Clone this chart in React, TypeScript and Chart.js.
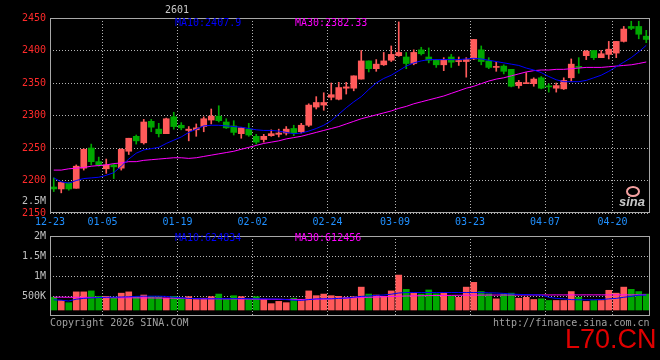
import React, { useEffect, useRef } from 'react';
import { Chart, registerables } from 'chart.js';

Chart.register(...registerables);

const TITLE = '2601';

const DATES = [
  '12-23', '12-24', '12-25', '12-26', '12-29', '12-30', '12-31',
  '01-05', '01-06', '01-07', '01-08', '01-09', '01-12', '01-13', '01-14', '01-15', '01-16',
  '01-19', '01-20', '01-21', '01-22', '01-23', '01-26', '01-27', '01-28', '01-29', '01-30',
  '02-02', '02-03', '02-04', '02-05', '02-06', '02-09', '02-10', '02-11', '02-12', '02-13',
  '02-24', '02-25', '02-26', '02-27',
  '03-02', '03-03', '03-04', '03-05', '03-06', '03-09', '03-10', '03-11', '03-12', '03-13',
  '03-16', '03-17', '03-18', '03-19', '03-20', '03-23', '03-24', '03-25', '03-26', '03-27',
  '03-30', '03-31', '04-01', '04-02', '04-03', '04-07', '04-08', '04-09', '04-10',
  '04-13', '04-14', '04-15', '04-16', '04-17', '04-20', '04-21', '04-22', '04-23', '04-24',
];

const TICK_DATES = ['12-23', '01-05', '01-19', '02-02', '02-24', '03-09', '03-23', '04-07', '04-20'];

const OPEN = [
  2190, 2187, 2196, 2188, 2219, 2250, 2229, 2218, 2224, 2219,
  2245, 2268, 2258, 2291, 2279, 2272, 2298, 2285, 2277, 2278,
  2283, 2293, 2299, 2290, 2284, 2272, 2279, 2268, 2263, 2269,
  2271, 2273, 2280, 2275, 2285, 2313, 2316, 2328, 2325, 2342,
  2342, 2356, 2384, 2372, 2378, 2385, 2392, 2390, 2380, 2401,
  2390, 2385, 2378, 2390, 2383, 2383, 2387, 2401, 2384, 2374,
  2376, 2371, 2346, 2349, 2349, 2358, 2345, 2342, 2341, 2358,
  2375, 2392, 2400, 2389, 2394, 2396, 2414, 2437, 2437, 2422,
];
const HIGH = [
  2204, 2197, 2197, 2224, 2249, 2256, 2236, 2233, 2226, 2249,
  2265, 2270, 2294, 2294, 2288, 2296, 2305, 2289, 2283, 2287,
  2298, 2310, 2315, 2295, 2292, 2281, 2288, 2271, 2271, 2278,
  2279, 2283, 2285, 2288, 2318, 2329, 2335, 2350, 2351, 2351,
  2361, 2400, 2384, 2386, 2397, 2407, 2444, 2397, 2401, 2405,
  2404, 2386, 2389, 2394, 2390, 2389, 2417, 2407, 2389, 2382,
  2378, 2371, 2354, 2366, 2358, 2360, 2349, 2350, 2358, 2387,
  2389, 2400, 2400, 2400, 2414, 2414, 2437, 2445, 2445, 2431,
];
const LOW = [
  2183, 2181, 2185, 2188, 2216, 2224, 2222, 2211, 2203, 2216,
  2240, 2256, 2256, 2275, 2267, 2272, 2279, 2278, 2261, 2268,
  2275, 2287, 2290, 2280, 2270, 2265, 2268, 2256, 2259, 2268,
  2267, 2270, 2269, 2273, 2283, 2310, 2308, 2324, 2324, 2333,
  2338, 2356, 2367, 2368, 2377, 2383, 2391, 2372, 2378, 2393,
  2381, 2374, 2369, 2374, 2377, 2359, 2386, 2378, 2372, 2368,
  2364, 2344, 2342, 2349, 2345, 2341, 2336, 2336, 2340, 2353,
  2365, 2386, 2386, 2389, 2387, 2389, 2413, 2432, 2418, 2412,
];
const CLOSE = [
  2187, 2197, 2187, 2222, 2248, 2229, 2224, 2224, 2221, 2248,
  2265, 2261, 2290, 2282, 2272, 2295, 2283, 2281, 2279, 2281,
  2295, 2299, 2292, 2281, 2274, 2281, 2270, 2259, 2268, 2272,
  2273, 2279, 2273, 2285, 2316, 2320, 2320, 2332, 2343, 2344,
  2361, 2384, 2372, 2379, 2384, 2394, 2397, 2380, 2397, 2395,
  2385, 2378, 2386, 2382, 2384, 2386, 2417, 2383, 2374, 2375,
  2368, 2345, 2351, 2350, 2356, 2342, 2344, 2346, 2354, 2379,
  2374, 2399, 2389, 2395, 2402, 2414, 2433, 2434, 2425, 2417,
];

const MA10 = [
  2204, 2198, 2196, 2200, 2203, 2204, 2205, 2208, 2212, 2222,
  2233, 2242, 2247, 2249, 2251, 2257, 2262, 2267, 2274, 2279,
  2284, 2285, 2285, 2284, 2283, 2282, 2280, 2278, 2277, 2277,
  2276, 2274, 2272, 2273, 2276, 2280, 2285, 2292, 2302, 2312,
  2321, 2329, 2340, 2350, 2357, 2362, 2369, 2376, 2381, 2384,
  2386, 2386, 2386, 2386, 2386, 2387, 2388, 2387, 2385, 2383,
  2381, 2379, 2377, 2373, 2370, 2366, 2360, 2355, 2352, 2352,
  2352, 2354, 2358, 2362, 2368, 2375, 2382, 2389, 2398, 2407.9,
];
const MA30 = [
  2216, 2216, 2218, 2219, 2220, 2222, 2223, 2224, 2226, 2227,
  2229, 2229, 2231, 2232, 2233, 2234, 2235, 2235, 2234, 2235,
  2237, 2239, 2241, 2243, 2245, 2248, 2251, 2254, 2257, 2259,
  2261, 2264, 2266, 2268, 2271, 2274, 2277, 2280, 2283, 2287,
  2291, 2295, 2298, 2301, 2304, 2307, 2311, 2314, 2318, 2321,
  2324, 2327, 2330, 2334, 2338, 2342, 2345, 2349, 2353, 2356,
  2358, 2361, 2364, 2367, 2369, 2370, 2370, 2371, 2371, 2372,
  2373, 2374, 2374, 2374, 2375, 2376, 2377, 2378, 2380, 2382.33,
];

const VOLUME = [
  469000, 388000, 333000, 603000, 603000, 627000, 492000, 492000, 469000, 571000,
  603000, 492000, 524000, 492000, 484000, 445000, 492000, 445000, 484000, 413000,
  445000, 484000, 548000, 413000, 508000, 484000, 413000, 484000, 413000, 309000,
  365000, 333000, 445000, 413000, 627000, 508000, 548000, 508000, 492000, 469000,
  484000, 722000, 548000, 524000, 492000, 627000, 1023000, 666000, 571000, 548000,
  651000, 555000, 571000, 492000, 469000, 722000, 841000, 611000, 555000, 429000,
  548000, 571000, 445000, 469000, 413000, 429000, 388000, 388000, 388000, 611000,
  469000, 365000, 388000, 388000, 643000, 571000, 722000, 666000, 611000, 548000,
];
const VOL_MA10 = [
  405000, 395000, 375000, 420000, 440000, 452000, 460000, 468000, 470000, 475000,
  480000, 490000, 495000, 495000, 495000, 490000, 470000, 455000, 440000, 432000,
  430000, 430000, 432000, 432000, 435000, 435000, 432000, 430000, 428000, 425000,
  425000, 410000, 395000, 390000, 410000, 428000, 430000, 430000, 440000, 450000,
  470000, 490000, 500000, 515000, 525000, 545000, 575000, 587000, 587000, 587000,
  587000, 587000, 587000, 587000, 587000, 587000, 587000, 585000, 580000, 575000,
  565000, 550000, 540000, 535000, 530000, 524000, 468000, 440000, 428000, 410000,
  405000, 405000, 405000, 410000, 428000, 440000, 468000, 490000, 520000, 524000,
];
const VOL_MA30 = [
  470000, 470000, 468000, 468000, 466000, 465000, 462000, 458000, 456000, 455000,
  455000, 454000, 453000, 452000, 450000, 448000, 446000, 444000, 440000, 436000,
  432000, 430000, 428000, 427000, 426000, 425000, 424000, 422000, 420000, 418000,
  416000, 415000, 414000, 414000, 415000, 418000, 425000, 432000, 440000, 448000,
  455000, 462000, 468000, 474000, 480000, 488000, 495000, 500000, 504000, 507000,
  510000, 512000, 514000, 516000, 518000, 520000, 521000, 522000, 523000, 524000,
  524000, 525000, 525000, 526000, 526000, 526000, 526000, 527000, 527000, 527000,
  527000, 528000, 528000, 528000, 528000, 528000, 528000, 528000, 529000, 529000,
];

const PRICE_MIN = 2150;
const PRICE_MAX = 2450;
const PRICE_STEP = 50;
const VOL_MAX = 2000000;
const VOL_STEP = 500000;
const VOL_BAR_BASE = 150000;

const MA_PRICE_LABELS = ['MA10:2407.9', 'MA30:2382.33'];
const MA_VOL_LABELS = ['MA10:624834', 'MA30:612456'];

const UP = '#ff5a5a';
const DOWN = '#00a800';
const BLUE = '#0000ff';
const MAGENTA = '#ff00ff';
const GRID = '#b4b4b4';
const FRAME = '#a8a8a8';
const MONO = '"DejaVu Sans Mono", "Liberation Mono", monospace';
const CLEAR = 'rgba(0,0,0,0)';

const framePlugin = {
  id: 'frame',
  afterDraw(chart: any) {
    const { ctx, chartArea } = chart;
    const l = Math.round(chartArea.left) + 0.5;
    const t = Math.round(chartArea.top) + 0.5;
    const r = Math.round(chartArea.right) - 0.5;
    const b = Math.round(chartArea.bottom) - 0.5;
    ctx.save();
    ctx.strokeStyle = FRAME;
    ctx.lineWidth = 1;
    ctx.strokeRect(l, t, r - l, b - t);
    ctx.restore();
  },
};

function fmtVol(v: number) {
  if (v <= 0) return '';
  if (v >= 1000000) return v / 1000000 + 'M';
  return v / 1000 + 'K';
}

function Txt(props: { left: number; top: number; color: string; children: any; size?: number; family?: string; style?: any }) {
  const size = props.size || 10;
  return (
    <span
      style={{
        position: 'absolute',
        left: props.left,
        top: props.top,
        color: props.color,
        fontFamily: props.family || MONO,
        fontSize: size,
        lineHeight: size + 'px',
        whiteSpace: 'nowrap',
        ...(props.style || {}),
      }}
    >
      {props.children}
    </span>
  );
}

export default function App() {
  const priceRef = useRef<HTMLCanvasElement>(null);
  const volRef = useRef<HTMLCanvasElement>(null);

  useEffect(() => {
    const colors = CLOSE.map((c, i) => (c >= OPEN[i] ? UP : DOWN));
    const font = { family: MONO, size: 10 };
    const dateGrid = (ctx: any) => {
      const d = DATES[ctx.index];
      return d && ctx.index > 0 && TICK_DATES.includes(d) ? GRID : CLEAR;
    };

    const price = new Chart(priceRef.current as HTMLCanvasElement, {
      type: 'bar',
      data: {
        labels: DATES,
        datasets: [
          {
            type: 'line',
            label: 'MA10',
            data: MA10,
            borderColor: BLUE,
            borderWidth: 1,
            pointRadius: 0,
            tension: 0,
            order: 0,
          } as any,
          {
            type: 'line',
            label: 'MA30',
            data: MA30,
            borderColor: MAGENTA,
            borderWidth: 1,
            pointRadius: 0,
            tension: 0,
            order: 0,
          } as any,
          {
            type: 'bar',
            label: 'body',
            data: OPEN.map((o, i) => [o, CLOSE[i]]),
            backgroundColor: colors,
            barThickness: 6,
            minBarLength: 1,
            grouped: false,
            order: 1,
          } as any,
          {
            type: 'bar',
            label: 'wick',
            data: LOW.map((l, i) => [l, HIGH[i]]),
            backgroundColor: colors,
            barThickness: 1,
            grouped: false,
            order: 2,
          } as any,
        ],
      },
      options: {
        responsive: false,
        animation: false,
        devicePixelRatio: 1,
        events: [],
        layout: { padding: { top: 18, right: 10, bottom: 0, left: 0 } },
        plugins: { legend: { display: false }, tooltip: { enabled: false } },
        scales: {
          x: {
            type: 'category',
            offset: true,
            grid: { offset: true, color: dateGrid, drawTicks: false, lineWidth: 1 },
            border: { display: false, dash: [1, 2] },
            ticks: {
              autoSkip: false,
              maxRotation: 0,
              minRotation: 0,
              color: '#2090ff',
              font,
              padding: 3,
              labelOffset: -3.75,
              callback: (_v: any, i: number) => (TICK_DATES.includes(DATES[i]) ? DATES[i] : ''),
            },
            afterFit: (s: any) => {
              s.height = 17;
            },
          },
          y: {
            type: 'linear',
            min: PRICE_MIN,
            max: PRICE_MAX,
            beginAtZero: false,
            grid: { color: GRID, drawTicks: false, lineWidth: 1 },
            border: { display: false, dash: [1, 2] },
            ticks: {
              stepSize: PRICE_STEP,
              color: '#ff2a2a',
              font,
              padding: 4,
              callback: (v: any) => String(v),
            },
            afterFit: (s: any) => {
              s.width = 50;
            },
          },
        },
      } as any,
      plugins: [framePlugin],
    });

    const vol = new Chart(volRef.current as HTMLCanvasElement, {
      type: 'bar',
      data: {
        labels: DATES,
        datasets: [
          {
            type: 'line',
            label: 'MA10',
            data: VOL_MA10,
            borderColor: BLUE,
            borderWidth: 1,
            pointRadius: 0,
            tension: 0,
            order: 0,
          } as any,
          {
            type: 'line',
            label: 'MA30',
            data: VOL_MA30,
            borderColor: MAGENTA,
            borderWidth: 1,
            pointRadius: 0,
            tension: 0,
            order: 0,
          } as any,
          {
            type: 'bar',
            label: 'volume',
            data: VOLUME,
            backgroundColor: colors,
            barThickness: 6,
            base: VOL_BAR_BASE,
            grouped: false,
            order: 1,
          } as any,
        ],
      },
      options: {
        responsive: false,
        animation: false,
        devicePixelRatio: 1,
        events: [],
        layout: { padding: { top: 8, right: 10, bottom: 8, left: 0 } },
        plugins: { legend: { display: false }, tooltip: { enabled: false } },
        scales: {
          x: {
            type: 'category',
            offset: true,
            grid: { offset: true, color: dateGrid, drawTicks: false, lineWidth: 1 },
            border: { display: false, dash: [1, 2] },
            ticks: { display: false, autoSkip: false },
            afterFit: (s: any) => {
              s.height = 0;
            },
          },
          y: {
            type: 'linear',
            min: 0,
            max: VOL_MAX,
            beginAtZero: true,
            grid: {
              color: (ctx: any) => (ctx.tick && ctx.tick.value > 0 && ctx.tick.value < VOL_MAX ? GRID : CLEAR),
              drawTicks: false,
              lineWidth: 1,
            },
            border: { display: false, dash: [1, 2] },
            ticks: { stepSize: VOL_STEP, color: '#c0c0c0', font, padding: 4, callback: (v: any) => fmtVol(Number(v)) },
            afterFit: (s: any) => {
              s.width = 50;
            },
          },
        },
      } as any,
      plugins: [framePlugin],
    });

    return () => {
      price.destroy();
      vol.destroy();
    };
  }, []);

  return (
    <div
      style={{
        position: 'fixed',
        left: 0,
        top: 0,
        width: 660,
        height: 360,
        background: '#000',
        overflow: 'hidden',
      }}
    >
      <canvas ref={priceRef} width={660} height={230} style={{ position: 'absolute', left: 0, top: 0 }} />
      <canvas ref={volRef} width={660} height={100} style={{ position: 'absolute', left: 0, top: 226 }} />
      <Txt left={165} top={5} color="#c8c8c8">{TITLE}</Txt>
      <Txt left={175} top={18} color={BLUE}>{MA_PRICE_LABELS[0]}</Txt>
      <Txt left={295} top={18} color={MAGENTA}>{MA_PRICE_LABELS[1]}</Txt>
      <Txt left={22} top={196} color="#c0c0c0">2.5M</Txt>
      <Txt left={175} top={233} color={BLUE}>{MA_VOL_LABELS[0]}</Txt>
      <Txt left={295} top={233} color={MAGENTA}>{MA_VOL_LABELS[1]}</Txt>
      <Txt left={50} top={318} color="#a0a0a0">Copyright 2026 SINA.COM</Txt>
      <Txt left={493} top={318} color="#a0a0a0">http://finance.sina.com.cn</Txt>
      <div
        style={{
          position: 'absolute',
          left: 626,
          top: 186,
          width: 10,
          height: 7,
          border: '2px solid #f4a0a0',
          borderRadius: '50%',
        }}
      />
      <Txt
        left={619}
        top={195}
        color="#c8c8c8"
        size={13}
        family={'"Liberation Sans", Arial, sans-serif'}
        style={{ fontStyle: 'italic', fontWeight: 'bold' }}
      >
        sina
      </Txt>
      <Txt
        left={565}
        top={326}
        color="#e00000"
        size={27}
        family={'"Liberation Sans", Arial, sans-serif'}
      >
        L70.CN
      </Txt>
    </div>
  );
}
